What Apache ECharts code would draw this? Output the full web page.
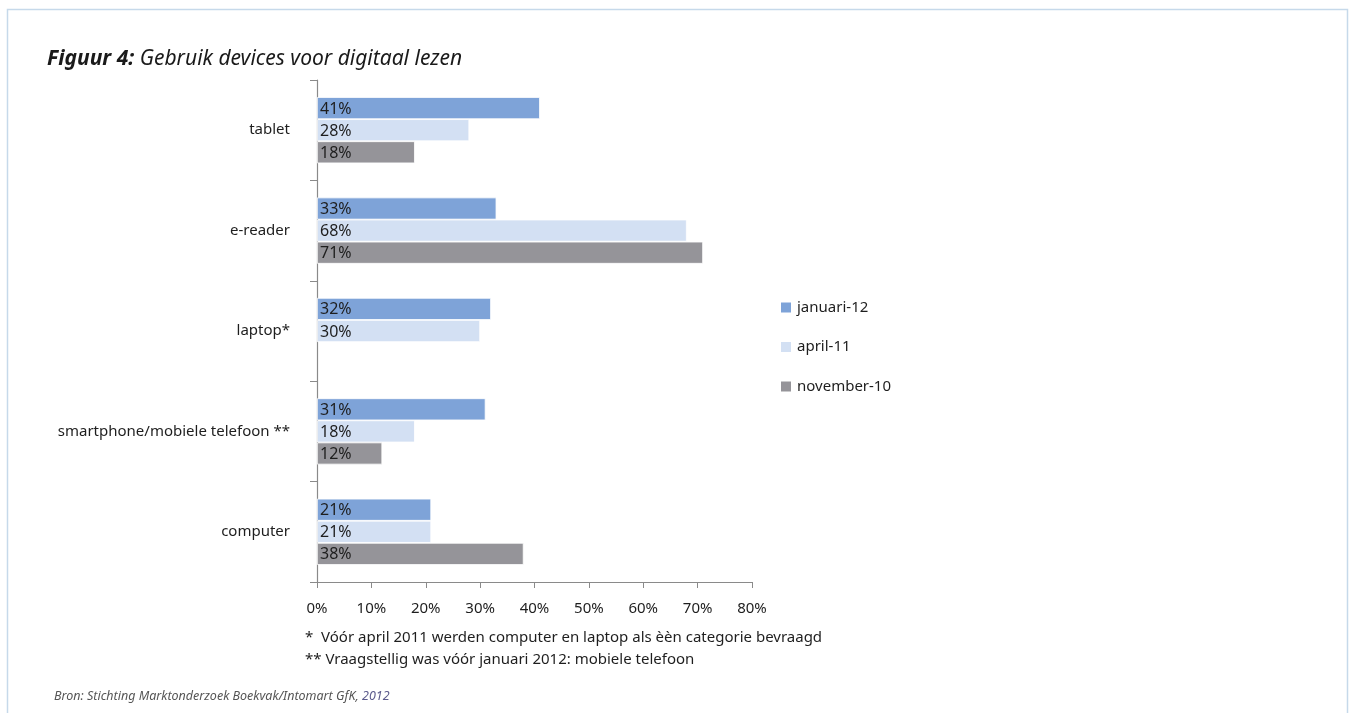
<!DOCTYPE html>
<html>
<head>
<meta charset="utf-8">
<script src="https://cdn.jsdelivr.net/npm/echarts@6/dist/echarts.min.js"></script>
<style>
  html, body { margin: 0; padding: 0; background: #fff; }
  #chart { width: 1349px; height: 713px; }
</style>
</head>
<body>
<div id="chart"></div>
<script>
// Devices used for digital reading, share of respondents per survey wave
const categories = ['tablet', 'e-reader', 'laptop*', 'smartphone/mobiele telefoon **', 'computer'];
const januari12 = [41, 33, 32, 31, 21];
const april11 = [28, 68, 30, 18, 21];
const november10 = [18, 71, null, 12, 38];
const seriesNames = ['januari-12', 'april-11', 'november-10'];
const xTicks = { min: 0, max: 80, interval: 10 };

const FONT = '"Noto Sans", sans-serif';
const colors = ['#7ea3d8', '#d3e0f3', '#959499'];

function barSeries(name, data, color) {
  return {
    name: name,
    type: 'bar',
    data: data,
    barGap: '0%',
    barCategoryGap: '34%',
    itemStyle: { color: color, borderColor: '#ffffff', borderWidth: 0.8 },
    label: {
      show: true,
      position: 'insideLeft',
      distance: 3,
      offset: [0, 1],
      formatter: '{c}%',
      color: '#1e1e1e',
      fontFamily: FONT,
      fontSize: 16
    },
    emphasis: { disabled: true }
  };
}

const chart = echarts.init(document.getElementById('chart'), null, { renderer: 'canvas' });
chart.setOption({
  animation: false,
  color: colors,
  title: {
    text: '{b|Figuur 4:}{i| Gebruik devices voor digitaal lezen}',
    left: 47,
    top: 49,
    padding: 0,
    textStyle: {
      rich: {
        b: { fontFamily: FONT, fontSize: 21, fontStyle: 'italic', fontWeight: 'bold', color: '#1a1a1a' },
        i: { fontFamily: FONT, fontSize: 21, fontStyle: 'italic', fontWeight: 'normal', color: '#1a1a1a' }
      }
    }
  },
  legend: {
    orient: 'vertical',
    left: 779,
    top: 300,
    padding: 0,
    itemWidth: 12,
    itemHeight: 12,
    itemGap: 24.5,
    icon: 'rect',
    data: seriesNames,
    textStyle: { fontFamily: FONT, fontSize: 15, color: '#1e1e1e', padding: [0, 0, 0, 0] }
  },
  grid: { left: 317, right: 597, top: 80, bottom: 131, containLabel: false },
  xAxis: {
    type: 'value',
    min: xTicks.min,
    max: xTicks.max,
    interval: xTicks.interval,
    axisLine: { show: true, lineStyle: { color: '#8a8a8a', width: 1.2 } },
    axisTick: { show: true, length: 6, lineStyle: { color: '#8a8a8a' } },
    splitLine: { show: false },
    axisLabel: { formatter: '{value}%', fontFamily: FONT, fontSize: 15, color: '#1e1e1e', margin: 19 }
  },
  yAxis: {
    type: 'category',
    inverse: true,
    data: categories,
    axisLine: { show: true, lineStyle: { color: '#8a8a8a', width: 1.2 } },
    axisTick: { show: true, length: 7, lineStyle: { color: '#8a8a8a' } },
    axisLabel: { fontFamily: FONT, fontSize: 15, color: '#1e1e1e', margin: 27, padding: [3, 0, 0, 0] }
  },
  series: [
    barSeries(seriesNames[0], januari12, colors[0]),
    barSeries(seriesNames[1], april11, colors[1]),
    barSeries(seriesNames[2], november10, colors[2])
  ],
  graphic: [
    {
      type: 'rect',
      shape: { x: 7.5, y: 9.5, width: 1340, height: 720 },
      style: { fill: 'none', stroke: '#c6d9ea', lineWidth: 1.5 },
      silent: true
    },
    {
      type: 'text',
      left: 305,
      top: 627,
      style: {
        text: '*  V\u00f3\u00f3r april 2011 werden computer en laptop als \u00e8\u00e8n categorie bevraagd\n** Vraagstellig was v\u00f3\u00f3r januari 2012: mobiele telefoon',
        fontFamily: FONT, fontSize: 15, lineHeight: 22, fill: '#1e1e1e'
      }
    },
    {
      type: 'text',
      left: 54,
      top: 690,
      style: {
        text: '{s|Bron: Stichting Marktonderzoek Boekvak/Intomart GfK,} {y|2012}',
        rich: {
          s: { fontFamily: FONT, fontSize: 12.5, fontStyle: 'italic', fill: '#555', color: '#555' },
          y: { fontFamily: FONT, fontSize: 12.5, fontStyle: 'italic', fill: '#5b5a8c', color: '#5b5a8c' }
        }
      }
    }
  ]
});
</script>
</body>
</html>
